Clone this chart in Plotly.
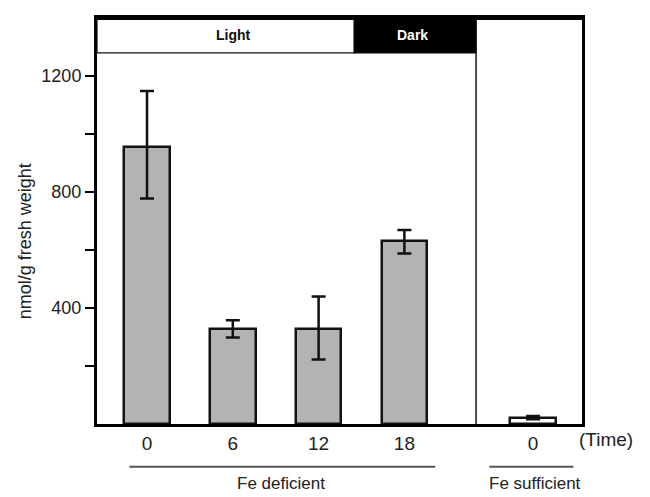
import plotly.graph_objects as go

# ---- data ----
tick_labels = ["0", "6", "12", "18", "0"]
x_pos = [0, 1, 2, 3, 4.5]
values = [955, 327, 327, 631, 22]
err_plus = [193, 31, 113, 38, 6]
err_minus = [177, 29, 105, 43, 6]
bar_fill = ["#b3b3b3", "#b3b3b3", "#b3b3b3", "#b3b3b3", "#ffffff"]
y_tickvals = [200, 400, 600, 800, 1000, 1200]
y_ticktext = ["", "400", "", "800", "", "1200"]
phase_labels = ["Light", "Dark"]
group_labels = ["Fe deficient", "Fe sufficient"]

FONT = "Liberation Sans, Arial, sans-serif"
XMIN, XMAX = -0.583, 5.07
LD_SPLIT = 2.416
DIVIDER = 3.835
BAND_LO, YMAX = 1280, 1400

# page has an 8px body margin; figure is sized to fit the 650x497 window
W, H = 642, 489
ML, MR, MT, MB = 89, 68, 7, 73
PW, PH = W - ML - MR, H - MT - MB


def py(y_page):
    """vertical page pixel -> paper coordinate"""
    return (H - MB - (y_page - 8)) / PH


def px(x_page):
    return (x_page - 8 - ML) / PW


fig = go.Figure()
fig.add_trace(go.Bar(
    x=x_pos, y=values, width=0.53,
    marker=dict(color=bar_fill, line=dict(color="#111111", width=2.5)),
    error_y=dict(type="data", symmetric=False, array=err_plus, arrayminus=err_minus,
                 color="#111111", thickness=2.5, width=7),
    showlegend=False, hoverinfo="skip",
))

shapes = [
    dict(type="rect", xref="x", yref="y", x0=XMIN, x1=LD_SPLIT, y0=BAND_LO, y1=YMAX,
         fillcolor="white", line=dict(color="#111111", width=1.2), layer="above"),
    dict(type="rect", xref="x", yref="y", x0=LD_SPLIT, x1=DIVIDER, y0=BAND_LO, y1=YMAX,
         fillcolor="#000000", line=dict(color="#000000", width=1.2), layer="above"),
    dict(type="line", xref="x", yref="y", x0=DIVIDER, x1=DIVIDER, y0=0, y1=YMAX,
         line=dict(color="#111111", width=1.5), layer="above"),
    dict(type="line", xref="x", yref="paper", x0=-0.205, x1=3.36, y0=py(467), y1=py(467),
         line=dict(color="#555555", width=2)),
    dict(type="line", xref="x", yref="paper", x0=3.99, x1=4.97, y0=py(467), y1=py(467),
         line=dict(color="#555555", width=2)),
    dict(type="line", xref="paper", yref="paper", x0=0, x1=1, y0=1, y1=1,
         line=dict(color="#000000", width=4), layer="above"),
]

annotations = [
    dict(x=1.006, y=(BAND_LO + YMAX) / 2, xref="x", yref="y",
         text="<b>%s</b>" % phase_labels[0], showarrow=False,
         font=dict(family=FONT, size=14, color="#111111")),
    dict(x=3.09, y=(BAND_LO + YMAX) / 2, xref="x", yref="y",
         text="<b>%s</b>" % phase_labels[1], showarrow=False,
         font=dict(family=FONT, size=14, color="#ffffff")),
    dict(x=px(577), y=py(440), xref="paper", yref="paper", text="(Time)", showarrow=False,
         xanchor="left", yanchor="middle", font=dict(family=FONT, size=19, color="#222222")),
    dict(x=1.565, y=py(484), xref="x", yref="paper", text=group_labels[0], showarrow=False,
         xanchor="center", yanchor="middle", font=dict(family=FONT, size=17, color="#222222")),
    dict(x=4.52, y=py(484), xref="x", yref="paper", text=group_labels[1], showarrow=False,
         xanchor="center", yanchor="middle", font=dict(family=FONT, size=17, color="#222222")),
    dict(x=px(25), y=py(240), xref="paper", yref="paper", text="nmol/g fresh weight",
         showarrow=False, textangle=-90, xanchor="center", yanchor="middle",
         font=dict(family=FONT, size=18, color="#222222")),
]

fig.update_layout(
    width=W, height=H,
    margin=dict(l=ML, r=MR, t=MT, b=MB),
    plot_bgcolor="white", paper_bgcolor="white",
    shapes=shapes, annotations=annotations,
    bargap=0,
    xaxis=dict(range=[XMIN, XMAX], tickvals=x_pos, ticktext=tick_labels,
               showgrid=False, zeroline=False, showline=True, linecolor="#000000",
               linewidth=3, mirror=True, ticks="",
               tickfont=dict(family=FONT, size=19, color="#222222")),
    yaxis=dict(range=[0, YMAX], tickvals=y_tickvals, ticktext=y_ticktext,
               showgrid=False, zeroline=False, showline=True, linecolor="#000000",
               linewidth=3, mirror=True, ticks="outside", ticklen=9, tickwidth=2,
               tickcolor="#000000",
               tickfont=dict(family=FONT, size=18, color="#222222")),
)

fig.write_html("out.html")
